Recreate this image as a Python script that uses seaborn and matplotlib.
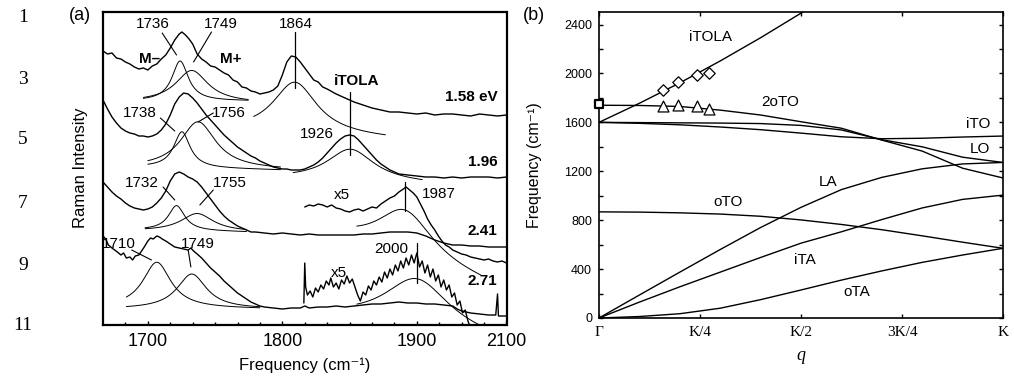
import numpy as np
import matplotlib
matplotlib.use("Agg")
import matplotlib.pyplot as plt
import seaborn as sns

# ---------------- (a) Raman spectra, vertically offset (arb. units) ----------------
s158_freq = [1650, 1655, 1660, 1665, 1670, 1675, 1680, 1685, 1690, 1695, 1700, 1705, 1710, 1715,
             1720, 1725, 1730, 1735, 1738, 1742, 1746, 1750, 1755, 1760, 1765, 1770, 1775, 1780,
             1785, 1790, 1795, 1800, 1805, 1810, 1815, 1820, 1825, 1830, 1835, 1840, 1845, 1850,
             1855, 1860, 1865, 1870, 1875, 1880, 1885, 1890, 1895, 1900, 1910, 1920, 1930, 1940,
             1950, 1960, 1970, 1980, 1990, 2000, 2010, 2020, 2030, 2040, 2050, 2060, 2070, 2080,
             2090, 2100]
s158_int = [274, 271, 272, 267, 266, 263, 261, 258, 256, 257, 255, 259, 261, 266,
            270, 277, 285, 291, 293, 290, 286, 281, 271, 266, 263, 259, 258, 255,
            252, 250, 245, 243, 238, 237, 234, 233, 231, 232, 233, 235, 239, 250,
            263, 269, 268, 263, 257, 251, 245, 243, 238, 236, 231, 227, 223, 220,
            217, 215, 213, 213, 212, 211, 212, 210, 211, 211, 210, 209, 211, 210,
            209, 210]

s196_freq = [1650, 1655, 1660, 1665, 1670, 1675, 1680, 1685, 1690, 1695, 1700, 1705, 1710, 1715,
             1720, 1725, 1730, 1735, 1740, 1745, 1750, 1755, 1760, 1765, 1770, 1775, 1780, 1785,
             1790, 1795, 1800, 1805, 1810, 1815, 1820, 1825, 1830, 1835, 1840, 1845, 1850, 1855,
             1860, 1865, 1870, 1875, 1880, 1885, 1890, 1895, 1900, 1905, 1910, 1915, 1920, 1925,
             1930, 1935, 1940, 1945, 1950, 1955, 1960, 1965, 1970, 1975, 1980, 1990, 2000, 2010,
             2020, 2030, 2040, 2050, 2060, 2070, 2080, 2090, 2100]
s196_int = [225, 216, 208, 202, 197, 194, 192, 191, 189, 189, 188, 189, 191, 195,
            201, 210, 221, 228, 232, 231, 227, 222, 216, 210, 205, 200, 195, 190,
            186, 182, 178, 175, 172, 169, 167, 164, 162, 160, 158, 157, 156, 156,
            155, 155, 155, 156, 158, 160, 163, 167, 172, 177, 182, 186, 189, 190,
            189, 185, 180, 175, 170, 165, 161, 158, 155, 153, 151, 150, 149, 148,
            148, 147, 148, 147, 148, 148, 148, 147, 148]

s241_freq = [1650, 1655, 1660, 1665, 1670, 1675, 1680, 1685, 1690, 1695, 1700, 1705, 1710, 1715,
             1720, 1725, 1730, 1735, 1740, 1745, 1750, 1755, 1760, 1765, 1770, 1775, 1780, 1785,
             1790, 1795, 1800, 1805, 1810, 1815, 1820, 1830, 1840, 1850, 1860, 1870, 1880, 1890,
             1900, 1910, 1920, 1930, 1940, 1950, 1960, 1970, 1980, 1990, 2000, 2010, 2020, 2030,
             2040, 2050, 2060, 2070, 2080, 2090, 2100]
s241_int = [143, 138, 133, 129, 126, 122, 119, 117, 116, 115, 116, 118, 122, 127,
            134, 144, 151, 153, 151, 148, 146, 143, 138, 132, 126, 120, 114, 109,
            105, 102, 99, 97, 95, 93, 93, 92, 91, 92, 91, 90, 91, 90,
            90, 90, 90, 90, 91, 91, 92, 93, 93, 93, 92, 89, 85, 82,
            80, 80, 79, 79, 78, 78, 78]

# 2.41 eV, high-frequency part magnified x5
s241x5_freq = [1875, 1880, 1885, 1890, 1895, 1900, 1905, 1910, 1915, 1920, 1925, 1930, 1935, 1940,
               1945, 1950, 1955, 1960, 1965, 1970, 1975, 1980, 1985, 1988, 1992, 1996, 2000, 2004,
               2008, 2012, 2016, 2020, 2024, 2028, 2032, 2036, 2040, 2045, 2050, 2055, 2060, 2065,
               2070, 2075, 2080, 2085, 2090, 2095, 2100]
s241x5_int = [118, 120, 119, 121, 120, 118, 120, 117, 116, 114, 113, 115, 116, 114,
              116, 118, 117, 121, 124, 127, 129, 133, 136, 138, 135, 132, 128, 121,
              114, 106, 100, 95, 89, 84, 80, 78, 75, 73, 71, 70, 68, 67,
              66, 65, 66, 64, 63, 64, 62]

s271_freq = [1650, 1653, 1656, 1660, 1663, 1666, 1670, 1673, 1676, 1680, 1683, 1686, 1690, 1693,
             1696, 1700, 1703, 1706, 1710, 1713, 1716, 1720, 1725, 1730, 1735, 1740, 1745, 1748,
             1751, 1755, 1760, 1765, 1770, 1775, 1780, 1785, 1790, 1795, 1800, 1805, 1810, 1815,
             1820, 1825, 1830, 1840, 1850, 1860, 1870, 1875, 1880, 1890, 1900, 1910, 1920, 1930,
             1940, 1950, 1960, 1970, 1980, 1990, 2000, 2010, 2020, 2030, 2040, 2045, 2050, 2060,
             2070, 2080, 2088, 2090, 2091, 2100]
s271_int = [89, 86, 80, 77, 75, 73, 70, 72, 67, 68, 65, 69, 70, 74,
            78, 84, 87, 86, 89, 88, 86, 84, 81, 78, 77, 76, 75, 77,
            74, 71, 67, 62, 57, 53, 49, 44, 40, 36, 32, 29, 26, 23,
            21, 19, 18, 17, 16, 17, 17, 19, 17, 18, 18, 19, 18, 19,
            20, 21, 21, 22, 23, 22, 22, 21, 21, 20, 19, 16, 14, 12,
            11, 10, 10, 31, 9, 9]

# 2.71 eV, high-frequency part magnified x5
s271x5_freq = [1874, 1875, 1876, 1878, 1881, 1884, 1887, 1890, 1893, 1896, 1899, 1902, 1904, 1907,
               1910, 1913, 1916, 1919, 1922, 1925, 1928, 1931, 1934, 1937, 1940, 1943, 1946, 1949,
               1952, 1955, 1958, 1961, 1964, 1967, 1970, 1973, 1976, 1979, 1982, 1985, 1988, 1991,
               1994, 1997, 2000, 2003, 2006, 2009, 2012, 2015, 2018, 2021, 2024, 2027, 2030, 2033,
               2036, 2039, 2042, 2045, 2048, 2051, 2054, 2057, 2060]
s271x5_int = [22, 62, 38, 30, 34, 28, 37, 33, 40, 36, 44, 40, 47, 38,
              42, 36, 45, 41, 49, 42, 46, 38, 30, 24, 33, 30, 39, 35,
              44, 40, 48, 43, 53, 47, 56, 50, 60, 54, 64, 57, 67, 60,
              70, 62, 72, 58, 64, 52, 60, 48, 56, 44, 50, 38, 45, 35,
              40, 28, 32, 20, 24, 12, 15, 4, -3]

# Lorentzian fit components: centre (cm-1), HWHM, height, span, linear baseline
fit_center = [1736, 1749, 1864, 1738, 1756, 1926, 1732, 1755, 1987, 1710, 1749, 2000]
fit_hwhm = [11, 22, 30, 11, 24, 32, 11, 22, 38, 19, 20, 45]
fit_height = [40, 32, 52, 36, 47, 32, 25, 18, 48, 46, 35, 51]
fit_start = [1695, 1695, 1818, 1700, 1700, 1862, 1697, 1697, 1933, 1676, 1676, 1933]
fit_end = [1812, 1812, 1965, 1848, 1848, 2006, 1810, 1810, 2071, 1825, 1825, 2071]
fit_base_start = [224, 223, 193, 158, 157, 146, 95, 94, 83, 17, 16, 5]
fit_base_end = [224, 222, 186, 155, 155, 141, 93, 93, 42, 16, 16, -15]

energy_labels = ["1.58 eV", "1.96", "2.41", "2.71"]
freq_tick_values = [1700, 1850, 2000, 2100]
freq_tick_labels = ["1700", "1800", "1900", "2100"]

# ---------------- (b) phonon dispersion along Gamma-K ----------------
q_grid = [0.0, 0.1, 0.2, 0.3, 0.4, 0.5, 0.6, 0.7, 0.8, 0.9, 1.0]
itola = [1600, 1756, 1923, 2102, 2292, 2493, 2707]
two_oto = [1740, 1738, 1730, 1700, 1660, 1605, 1552, 1455, 1365, 1225, 1145]
lo = [1600, 1598, 1596, 1594, 1590, 1575, 1538, 1458, 1400, 1315, 1272]
ito = [1600, 1592, 1580, 1562, 1540, 1512, 1482, 1466, 1470, 1480, 1488]
la = [0, 188, 375, 560, 740, 905, 1050, 1150, 1220, 1260, 1272]
oto = [868, 866, 860, 850, 832, 802, 765, 722, 672, 620, 570]
ita = [0, 130, 255, 375, 495, 612, 705, 805, 900, 970, 1005]
ota = [0, 12, 35, 80, 150, 229, 310, 385, 455, 515, 570]

q_exp = [0.159, 0.195, 0.242, 0.272]
itola_exp = [1864, 1926, 1987, 2000]
mminus_exp = [1736, 1738, 1732, 1710]
gamma_m_q = [0.0]
gamma_m_freq = [1750]

q_tick_labels = ["Γ", "K/4", "K/2", "3K/4", "K"]
line_numbers = ["1", "3", "5", "7", "9", "11"]

# ---------------- style ----------------
sns.set_theme(style="ticks")
SANS = ["Liberation Sans", "DejaVu Sans"]
SERIF = ["Liberation Serif", "DejaVu Serif"]
plt.rcParams["font.family"] = SANS
plt.rcParams["axes.edgecolor"] = "black"
plt.rcParams["text.color"] = "black"
plt.rcParams["xtick.color"] = "black"
plt.rcParams["ytick.color"] = "black"

W, H = 1014, 378
fig = plt.figure(figsize=(W / 100, H / 100), dpi=100)
fig.patch.set_facecolor("white")


def px_box(x0, y0, x1, y1):
    return [x0 / W, 1 - y1 / H, (x1 - x0) / W, (y1 - y0) / H]


ax1 = fig.add_axes(px_box(103, 12, 506.5, 325))
ax2 = fig.add_axes(px_box(599, 12.3, 1003, 318))

# ---- panel (a)
spectra = [(s158_freq, s158_int), (s196_freq, s196_int), (s241_freq, s241_int),
           (s241x5_freq, s241x5_int), (s271_freq, s271_int), (s271x5_freq, s271x5_int)]
for fx, fy in spectra:
    sns.lineplot(x=fx, y=fy, ax=ax1, color="black", linewidth=1.0,
                 estimator=None, sort=False)

for c, w, a, f0, f1, b0, b1 in zip(fit_center, fit_hwhm, fit_height, fit_start, fit_end,
                                   fit_base_start, fit_base_end):
    fx = np.linspace(f0, f1, 240)
    base = b0 + (b1 - b0) * (fx - f0) / (f1 - f0)
    fy = base + a / (1.0 + ((fx - c) / w) ** 2)
    sns.lineplot(x=fx, y=fy, ax=ax1, color="black", linewidth=0.7,
                 estimator=None, sort=False)

# marker lines through fitted peaks
for xc, y0, y1 in [(fit_center[2], 237, 293), (fit_center[5], 170, 233),
                   (fit_center[8], 114, 143), (fit_center[11], 42, 82)]:
    ax1.plot([xc, xc], [y0, y1], color="black", lw=0.9)

# leader lines from labels to peaks
leaders = [((1716, 292), (1732, 270)), ((1771, 293), (1751, 263)),
           ((1714, 207), (1730, 194)), ((1773, 212), (1756, 203)),
           ((1717, 138), (1730, 125)), ((1773, 135), (1758, 120)),
           ((1682, 75), (1704, 65)), ((1745, 75), (1748, 58))]
for (xa, ya), (xb, yb) in leaders:
    ax1.plot([xa, xb], [ya, yb], color="black", lw=0.8)

lab_fs = 11
peak_text = [(1705, 301, "1736"), (1781, 301, "1749"), (1865, 301, "1864"),
             (1691, 212, "1738"), (1790, 212, "1756"), (1888, 191, "1926"),
             (1693, 142, "1732"), (1791, 142, "1755"), (2024, 131, "1987"),
             (1668, 81, "1710"), (1756, 81, "1749"), (1972, 76, "2000")]
for x, y, t in peak_text:
    ax1.text(x, y, t, ha="center", va="center", fontsize=lab_fs)
ax1.text(1916, 130, "x5", ha="center", va="center", fontsize=lab_fs)
ax1.text(1913, 52, "x5", ha="center", va="center", fontsize=lab_fs)
ax1.text(1702, 266, "M–", ha="center", va="center", fontsize=lab_fs, fontweight="bold")
ax1.text(1792, 266, "M+", ha="center", va="center", fontsize=lab_fs, fontweight="bold")
ax1.text(1933, 244, "iTOLA", ha="center", va="center", fontsize=lab_fs, fontweight="bold")
for y, t in zip([228, 163, 94, 44], energy_labels):
    ax1.text(2090, y, t, ha="right", va="center", fontsize=lab_fs, fontweight="bold")

ax1.set_xlim(1650, 2100)
ax1.set_ylim(0, 313)
ax1.set_yticks([])
ax1.set_xticks(freq_tick_values, labels=freq_tick_labels)
ax1.set_xticks(np.arange(1675, 2100, 25), minor=True)
ax1.tick_params(axis="x", which="major", direction="in", length=3.2, width=1.0,
                labelsize=13, pad=6)
ax1.tick_params(axis="x", which="minor", direction="in", length=2.0, width=1.0)
for sp in ax1.spines.values():
    sp.set_visible(True)
    sp.set_linewidth(1.6)
ax1.set_xlabel("")
ax1.set_ylabel("")

# ---- panel (b)
branches = [(q_grid[:len(itola)], itola), (q_grid, two_oto), (q_grid, lo), (q_grid, ito),
            (q_grid, la), (q_grid, oto), (q_grid, ita), (q_grid, ota)]
for bx, by in branches:
    sns.lineplot(x=bx, y=by, ax=ax2, color="black", linewidth=1.0,
                 estimator=None, sort=False)

sns.scatterplot(x=q_exp, y=itola_exp, ax=ax2, marker="D", s=34, facecolor="white",
                edgecolor="black", linewidth=0.9, zorder=5)
sns.scatterplot(x=q_exp, y=mminus_exp, ax=ax2, marker="^", s=62, facecolor="white",
                edgecolor="black", linewidth=0.9, zorder=5)
ax2.scatter(gamma_m_q, gamma_m_freq, marker="s", s=34, facecolor="white",
            edgecolor="black", linewidth=1.6, zorder=6, clip_on=False)

branch_text = [(0.275, 2297, "iTOLA"), (0.448, 1766, "2oTO"), (0.938, 1584, "iTO"),
               (0.943, 1380, "LO"), (0.568, 1113, "LA"), (0.32, 950, "oTO"),
               (0.51, 473, "iTA"), (0.638, 215, "oTA")]
for x, y, t in branch_text:
    ax2.text(x, y, t, ha="center", va="center", fontsize=lab_fs)

ax2.set_xlim(0, 1)
ax2.set_ylim(0, 2500)
ax2.set_xticks([0, 0.25, 0.5, 0.75, 1.0], labels=q_tick_labels)
for lbl in ax2.get_xticklabels():
    lbl.set_fontfamily(SERIF)
    lbl.set_fontsize(11)
ax2.set_yticks(np.arange(0, 2401, 400))
ax2.set_yticks(np.arange(0, 2501, 200), minor=True)
ax2.tick_params(axis="both", which="both", direction="in", top=True, right=True,
                length=3.0, width=1.0)
ax2.tick_params(axis="y", which="major", labelsize=9, pad=5)
ax2.tick_params(axis="x", which="major", pad=6)
for sp in ax2.spines.values():
    sp.set_visible(True)
    sp.set_linewidth(1.2)
ax2.set_xlabel("")
ax2.set_ylabel("")

# ---- figure-level text
fig.text(81 / W, 1 - 168 / H, "Raman Intensity", rotation=90, ha="center", va="center",
         fontsize=12)
fig.text(305 / W, 1 - 365 / H, "Frequency (cm⁻¹)", ha="center", va="center", fontsize=12,
         family=SANS)
fig.text(534 / W, 1 - 165 / H, "Frequency (cm⁻¹)", rotation=90, ha="center", va="center",
         fontsize=11.5, family=SANS)
fig.text(801 / W, 1 - 355 / H, "q", ha="center", va="center", fontsize=13,
         family=SERIF, style="italic")
fig.text(80 / W, 1 - 16 / H, "(a)", ha="center", va="center", fontsize=13)
fig.text(534 / W, 1 - 16 / H, "(b)", ha="center", va="center", fontsize=13)
for y, t in zip([17, 79, 140, 203, 266, 326], line_numbers):
    fig.text(23 / W, 1 - y / H, t, ha="center", va="center", fontsize=14, family=SERIF)

fig.savefig("out.png", dpi=100, facecolor="white")
